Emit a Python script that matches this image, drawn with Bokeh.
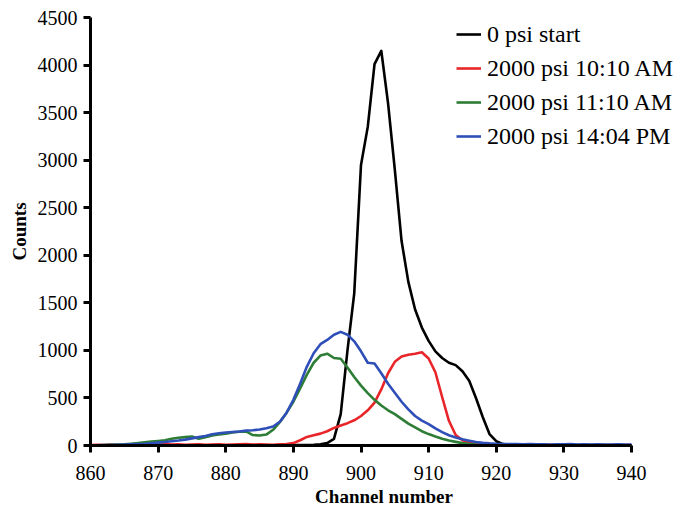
from bokeh.plotting import figure
from bokeh.models import Range1d, SingleIntervalTicker, Legend, LegendItem
from bokeh.embed import file_html
from bokeh.resources import INLINE

channels = list(range(860, 941))

black_0psi = [0, 0, 2, 0, 1, 2, 0, 1, 2, 1, 0, 2, 1, 0, 2, 1, 2, 0, 1, 2,
              1, 2, 0, 1, 2, 1, 2, 3, 2, 3, 4, 5, 6, 8, 12, 25, 70, 330, 1000, 1600,
              2950, 3350, 4010, 4150, 3600, 2900, 2150, 1720, 1430, 1240,
              1100, 990, 920, 870, 845, 780, 680, 500, 300, 120,
              45, 15, 8, 5, 4, 3, 4, 3, 2, 3, 4, 3, 2, 3, 2, 3, 2, 3, 2, 3, 2]

red_1010 = [5, 8, 5, 10, 6, 8, 12, 8, 10, 12, 8, 15, 10, 12, 8, 10, 12, 8, 10, 12,
            8, 10, 12, 15, 10, 12, 10, 8, 12, 15, 25, 55, 90, 108, 125, 150, 185, 210, 235, 265,
            310, 370, 450, 590, 760, 880, 935, 955, 965, 980,
            915, 770, 510, 260, 110, 55, 30, 18, 12, 10,
            8, 7, 6, 8, 6, 7, 5, 6, 8, 6, 5, 7, 6, 5, 6, 7, 5, 6, 5, 6, 5]

green_1110 = [0, 3, 5, 8, 10, 12, 18, 25, 35, 42, 48, 55, 70, 82, 88, 95, 72, 88, 105, 115,
              125, 138, 145, 148, 110, 105, 115, 165, 245, 345, 460, 600, 745, 870, 945, 965, 920, 912, 820, 720,
              630, 550, 480, 420, 370, 330, 280, 230, 190, 150,
              120, 95, 72, 52, 38, 25, 16, 10, 8, 6,
              5, 4, 5, 3, 4, 5, 3, 4, 3, 5, 4, 3, 4, 3, 4, 3, 4, 3, 4, 3, 3]

blue_1404 = [2, 3, 5, 6, 8, 10, 12, 15, 18, 24, 30, 36, 44, 52, 62, 75, 88, 100, 118, 128,
             136, 142, 148, 156, 160, 168, 182, 200, 250, 345, 480, 650, 830, 970, 1065, 1110, 1165, 1195, 1165, 1095,
             990, 870, 862, 760, 650, 555, 460, 380, 310, 262,
             225, 180, 140, 108, 85, 65, 50, 36, 28, 22,
             18, 16, 14, 15, 12, 14, 12, 13, 11, 13, 12, 14, 11, 12, 10, 13, 11, 10, 12, 10, 11]

series_labels = ["0 psi start", "2000 psi 10:10 AM", "2000 psi 11:10 AM", "2000 psi 14:04 PM"]
series_values = [black_0psi, red_1010, green_1110, blue_1404]
series_colors = ["#000000", "#e8262a", "#2e7d36", "#2f4fb8"]

x_axis_start, x_axis_end = 860, 940
y_axis_start, y_axis_end = 0, 4500

FONT = "Liberation Serif"

W, H = 677, 509
BORDER_L, BORDER_T = 90, 17
FRAME_W = W - BORDER_L
FRAME_H = H - BORDER_T - 64
PX_PER_CH = 541 / 80.0
# frame extends to the right of 940 so the legend is not clipped; axis bounded to 860..940
x_view_end = x_axis_start + FRAME_W / PX_PER_CH

p = figure(width=W, height=H, output_backend="svg", toolbar_location=None,
           x_range=Range1d(x_axis_start, x_view_end), y_range=Range1d(y_axis_start, y_axis_end),
           min_border_left=BORDER_L, min_border_right=0, min_border_top=BORDER_T, min_border_bottom=0)
p.outline_line_color = None
p.xgrid.visible = False
p.ygrid.visible = False
p.background_fill_color = "white"
p.border_fill_color = "white"

renderers = []
for vals, col in zip(series_values, series_colors):
    r = p.line(channels, vals, line_color=col, line_width=2.6, line_join="round")
    renderers.append(r)

items = [LegendItem(label=lab, renderers=[r]) for lab, r in zip(series_labels, renderers)]
legend = Legend(items=items, location=(366, FRAME_H - 136), border_line_color=None,
                background_fill_alpha=0, padding=0, spacing=0, margin=0,
                label_height=34, glyph_height=34, glyph_width=25, label_standoff=6,
                label_text_font=FONT, label_text_font_size="24px", label_text_color="black")
p.add_layout(legend, "center")

p.xaxis.ticker = SingleIntervalTicker(interval=10, num_minor_ticks=0)
p.yaxis.ticker = SingleIntervalTicker(interval=500, num_minor_ticks=0)
p.xaxis.bounds = (x_axis_start, x_axis_end)

for ax in (p.xaxis, p.yaxis):
    ax.axis_line_width = 3
    ax.axis_line_color = "black"
    ax.major_tick_line_width = 3
    ax.major_tick_line_color = "black"
    ax.major_tick_out = 7
    ax.major_tick_in = 0
    ax.minor_tick_line_color = None
    ax.major_label_text_font = FONT
    ax.major_label_text_font_size = "20px"
    ax.major_label_text_color = "black"
    ax.axis_label_text_font = FONT
    ax.axis_label_text_font_size = "19px"
    ax.axis_label_text_font_style = "bold"
    ax.axis_label_text_color = "black"

p.xaxis.axis_label = "Channel number"
p.yaxis.axis_label = "Counts"
p.xaxis.major_label_standoff = 13
p.xaxis.axis_label_standoff = 3
p.yaxis.major_label_standoff = 6
p.yaxis.axis_label_standoff = 5

open("out.html", "w").write(file_html(p, INLINE))
